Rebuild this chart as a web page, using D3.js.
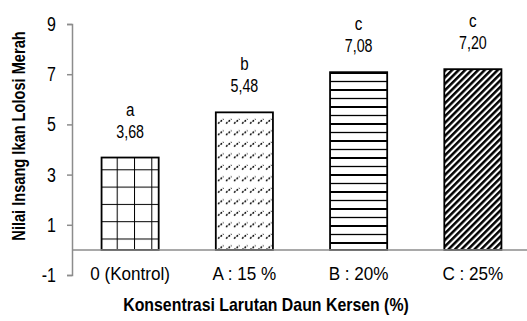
<!DOCTYPE html>
<html><head><meta charset="utf-8">
<script src="https://cdn.jsdelivr.net/npm/d3@7"></script>
<style>
body{margin:0;background:#fff;}
svg text{font-family:'Liberation Sans',Arial,sans-serif;fill:#000;}
</style></head>
<body><svg id="c" width="527" height="321"></svg>
<script>
const categories = ["0 (Kontrol)", "A : 15 %", "B : 20%", "C : 25%"];
const values = [3.68, 5.48, 7.08, 7.20];
const valueLabels = ["3,68", "5,48", "7,08", "7,20"];
const letters = ["a", "b", "c", "c"];
const yTicks = [-1, 1, 3, 5, 7, 9];
const patterns = ["grid", "dashdiag", "hstripe", "diag"];
const yTitle = "Nilai Insang Ikan Lolosi Merah";
const xTitle = "Konsentrasi Larutan Daun Kersen (%)";

const svg = d3.select("#c");
const x = d3.scaleBand().domain(categories).range([73, 530]).paddingInner(0.5).paddingOuter(0.25);
const y = d3.scaleLinear().domain([-1, 9]).range([275, 24]);
const cx = c => x(c) + x.bandwidth() / 2;

const defs = svg.append("defs");
// grid
const pg = defs.append("pattern").attr("id","grid").attr("patternUnits","userSpaceOnUse")
  .attr("width",17.3).attr("height",17.3).attr("x",116.7).attr("y",169.3);
pg.append("rect").attr("width",17.3).attr("height",17.3).attr("fill","#fff");
pg.append("line").attr("x1",0).attr("y1",0).attr("x2",17.3).attr("y2",0).attr("stroke","#000").attr("stroke-width",2);
pg.append("line").attr("x1",0).attr("y1",0).attr("x2",0).attr("y2",17.3).attr("stroke","#000").attr("stroke-width",2);
// dashed diagonals
const pd = defs.append("pattern").attr("id","dashdiag").attr("patternUnits","userSpaceOnUse")
  .attr("width",8).attr("height",11.5).attr("x",1).attr("y",3);
pd.append("rect").attr("width",8).attr("height",11.5).attr("fill","#fff");
pd.append("line").attr("x1",1).attr("y1",5.5).attr("x2",6.5).attr("y2",1).attr("stroke","#000").attr("stroke-width",1.5).attr("stroke-dasharray","2,1.2");
// horizontal stripes
const ph = defs.append("pattern").attr("id","hstripe").attr("patternUnits","userSpaceOnUse")
  .attr("width",10).attr("height",17).attr("x",0).attr("y",4);
ph.append("rect").attr("width",10).attr("height",17).attr("fill","#fff");
ph.append("line").attr("x1",0).attr("y1",1).attr("x2",10).attr("y2",1).attr("stroke","#000").attr("stroke-width",2);
ph.append("line").attr("x1",0).attr("y1",9.5).attr("x2",10).attr("y2",9.5).attr("stroke","#000").attr("stroke-width",1.3);
// dense diagonal
const pdi = defs.append("pattern").attr("id","diag").attr("patternUnits","userSpaceOnUse")
  .attr("width",4.6).attr("height",4.6).attr("patternTransform","rotate(45)");
pdi.append("rect").attr("width",4.6).attr("height",4.6).attr("fill","#fff");
pdi.append("rect").attr("width",2.5).attr("height",4.6).attr("fill","#000");

// bars
svg.selectAll("rect.bar").data(values).join("rect").attr("class","bar")
  .attr("x",(d,i)=>x(categories[i])).attr("width",x.bandwidth())
  .attr("y",d=>y(d)).attr("height",d=>y(0)-y(d))
  .attr("fill",(d,i)=>`url(#${patterns[i]})`).attr("stroke","#000").attr("stroke-width",1.8);

// y axis
const ya = svg.append("g").attr("transform","translate(72,0)")
  .call(d3.axisLeft(y).tickValues(yTicks).tickSize(5).tickFormat(""));
ya.select(".domain").attr("stroke","#8c8c8c").attr("stroke-width",1.5);
ya.selectAll(".tick line").attr("stroke","#8c8c8c").attr("stroke-width",1.5);
ya.selectAll(".tick text").remove();
svg.selectAll("text.ytl").data(yTicks).join("text").attr("class","ytl")
  .attr("transform",d=>`translate(56,${y(d)+7}) scale(0.82,1)`)
  .attr("text-anchor","end").attr("font-size",19.5)
  .text(d=>d<0?"-"+Math.abs(d):String(d));

// zero baseline
svg.append("line").attr("x1",72).attr("x2",527).attr("y1",y(0)).attr("y2",y(0))
  .attr("stroke","#8c8c8c").attr("stroke-width",1.5);

// category labels
svg.selectAll("text.cat").data(categories).join("text").attr("class","cat")
  .attr("transform",d=>`translate(${cx(d)},280) scale(0.9,1)`).attr("text-anchor","middle")
  .attr("font-size",19).text(d=>d);

// value labels
svg.selectAll("text.val").data(values).join("text").attr("class","val")
  .attr("transform",(d,i)=>`translate(${cx(categories[i])},${y(d)-20}) scale(0.77,1)`).attr("text-anchor","middle")
  .attr("font-size",18.5).text((d,i)=>valueLabels[i]);
svg.selectAll("text.let").data(values).join("text").attr("class","let")
  .attr("transform",(d,i)=>`translate(${cx(categories[i])},${y(d)-42}) scale(0.82,1)`).attr("text-anchor","middle")
  .attr("font-size",18.5).text((d,i)=>letters[i]);

// titles
svg.append("text").attr("transform","translate(266,311) scale(0.835,1)").attr("text-anchor","middle")
  .attr("font-size",19).attr("font-weight","bold").text(xTitle);
svg.append("text").attr("transform","translate(25,136) rotate(-90) scale(0.79,1)").attr("text-anchor","middle")
  .attr("font-size",18.5).attr("font-weight","bold").text(yTitle);
</script></body></html>
